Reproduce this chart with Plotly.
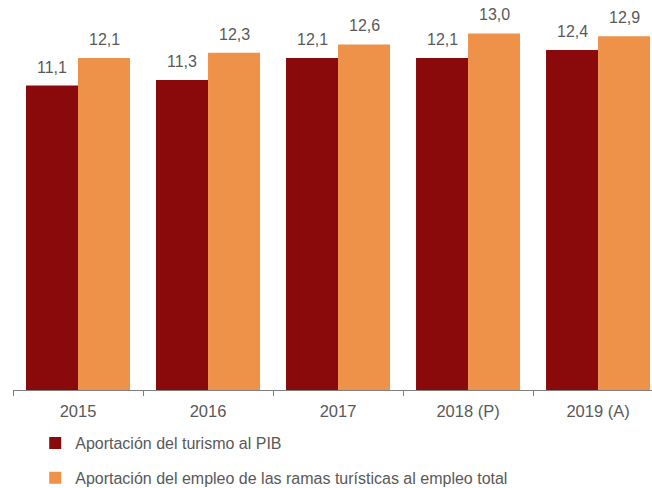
import plotly.graph_objects as go

years = ["2015", "2016", "2017", "2018 (P)", "2019 (A)"]
pib = [11.1, 11.3, 12.1, 12.1, 12.4]
empleo = [12.1, 12.3, 12.6, 13.0, 12.9]
names = ["Aportación del turismo al PIB",
         "Aportación del empleo de las ramas turísticas al empleo total"]
colors = ["#8A0A0B", "#EE924A"]
series = [pib, empleo]

FONT = "Liberation Sans, Arial, sans-serif"
GRAY = "#595959"

fig = go.Figure()
for i, (vals, nm, col) in enumerate(zip(series, names, colors)):
    fig.add_trace(go.Bar(
        x=years, y=vals, name=nm, marker=dict(color=col, line=dict(width=0)),
        legendgroup=f"g{i}",
    ))

annotations = []
for i, vals in enumerate(series):
    off = -0.2 if i == 0 else 0.2
    for j, v in enumerate(vals):
        annotations.append(dict(
            x=j + off, y=v, xref="x", yref="y",
            text=f"{v:.1f}".replace(".", ","),
            showarrow=False, yanchor="bottom", yshift=8,
            font=dict(family=FONT, size=16, color=GRAY),
        ))

fig.update_layout(
    width=652, height=488,
    margin=dict(l=13, r=0, t=6, b=98, autoexpand=False),
    paper_bgcolor="white", plot_bgcolor="white",
    barmode="group", bargap=0.2, bargroupgap=0,
    font=dict(family=FONT, color=GRAY),
    annotations=annotations,
    xaxis=dict(
        range=[-0.5, 4.415], showline=True, linecolor="#7f7f7f", linewidth=1,
        ticks="outside", ticklen=5, tickcolor="#7f7f7f", tickson="boundaries",
        tickfont=dict(family=FONT, size=16.5, color=GRAY), showgrid=False,
        ticklabelstandoff=6, automargin=False,
    ),
    yaxis=dict(range=[0, 14], visible=False, showgrid=False, zeroline=False),
    legend=dict(
        xref="container", yref="container",
        x=0.054, y=0.127, xanchor="left", yanchor="top",
        traceorder="grouped", tracegroupgap=11,
        font=dict(family=FONT, size=16, color=GRAY),
        itemwidth=30, bgcolor="rgba(0,0,0,0)",
    ),
    showlegend=True,
)

fig.write_html("out.html")
